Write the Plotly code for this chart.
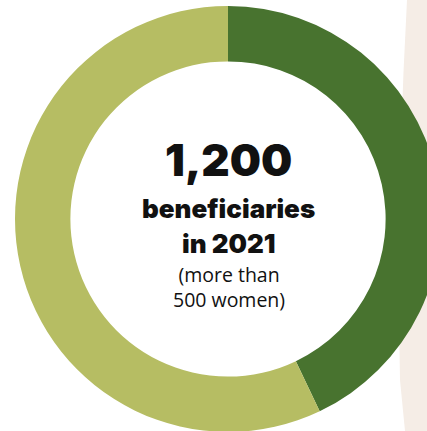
import plotly.graph_objects as go

labels = ["Women", "Men"]
values = [515, 685]
colors = ["#48732f", "#b6bd63"]

title_num = "1,200"
title_l1 = "beneficiaries"
title_l2 = "in 2021"
sub_l1 = "(more than"
sub_l2 = "500 women)"

W, H = 456, 438

fig = go.Figure(go.Pie(
    labels=labels, values=values, hole=0.74, sort=False, direction="clockwise",
    rotation=0, marker=dict(colors=colors, line=dict(width=0)),
    textinfo="none", hoverinfo="skip", showlegend=False,
    domain=dict(x=[15 / W, 441 / W], y=[(H - 432) / H, (H - 6) / H]),
))

fig.add_shape(type="path", xref="paper", yref="paper", layer="below",
              path=f"M {407/W} 1 Q {396/W} {1-200/H} {400/W} {1-380/H} L {405/W} {1-431/H} L 1 {1-431/H} L 1 1 Z",
              fillcolor="#f5ede6", line=dict(width=0))

def ann(text, ypx, size, weight, family, color="#111111"):
    fig.add_annotation(x=229 / W, y=1 - ypx / H, xref="paper", yref="paper",
                       text=text, showarrow=False, xanchor="center", yanchor="middle",
                       font=dict(family=family, size=size, color=color, weight=weight))

ann(title_num, 160, 44, 900, "Inter")
ann(title_l1, 208, 26, 900, "Inter")
ann(title_l2, 243, 26, 900, "Inter")
ann(sub_l1 + "<br>" + sub_l2, 287, 19.5, 400, "Open Sans")

fig.update_layout(width=W, height=H, margin=dict(l=0, r=0, t=0, b=0),
                  paper_bgcolor="white", plot_bgcolor="white")

fig.write_html("out.html", config=dict(displayModeBar=False),
               post_script="document.body.style.margin='0';document.body.style.overflow='hidden';")
